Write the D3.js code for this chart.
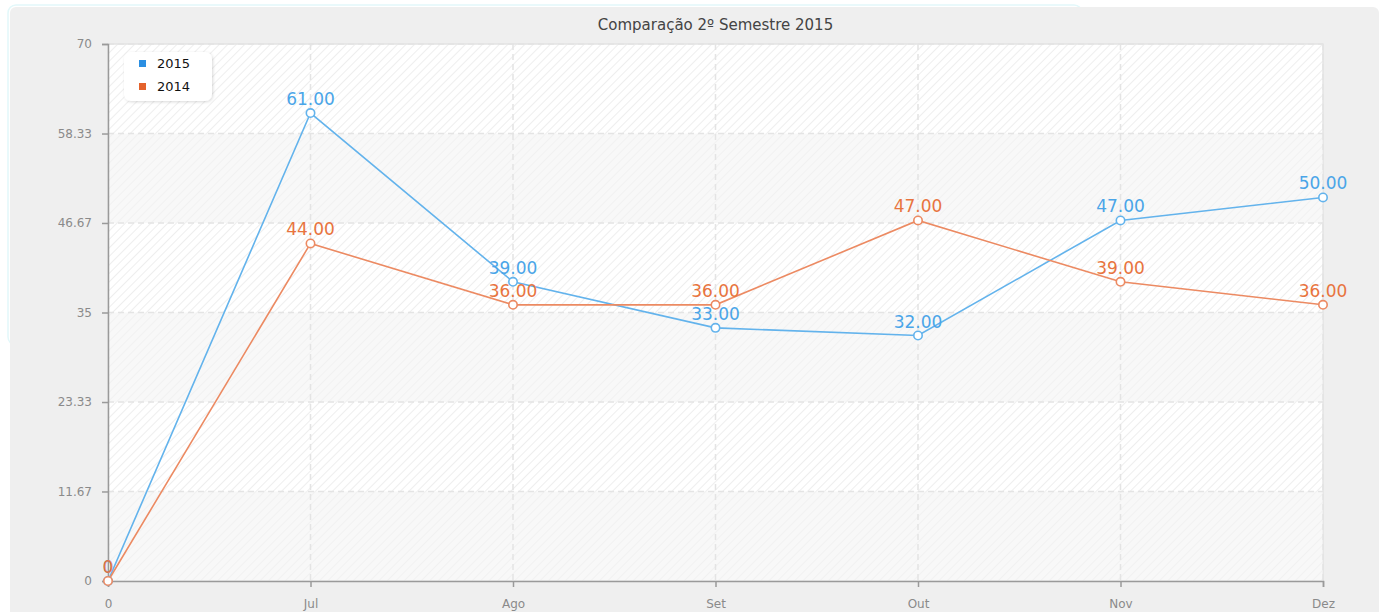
<!DOCTYPE html>
<html><head><meta charset="utf-8">
<script src="https://cdn.jsdelivr.net/npm/d3@7"></script>
<style>body{margin:0;background:#fff;}svg{display:block;font-family:"DejaVu Sans",Verdana,sans-serif;}</style>
</head><body><svg id="c" width="1379" height="612"></svg>
<script>
const categories = ["0","Jul","Ago","Set","Out","Nov","Dez"];
const s2015 = [0,61,39,33,32,47,50];
const s2014 = [0,44,36,36,47,39,36];
const yTicks = [0,11.67,23.33,35,46.67,58.33,70];
const seriesNames = ["2015","2014"];
const lineColors = ["#63b3ec","#ec8a62"];
const legendColors = ["#2b8fe2","#e4622c"];
const labelColors = ["#4aa5e8","#e8743e"];

const svg = d3.select("#c");
const W=1379,H=612, L=108, R=1323, T=44, B=581;

const defs = svg.append("defs");
const pat = defs.append("pattern").attr("id","hatch").attr("patternUnits","userSpaceOnUse")
  .attr("width",6).attr("height",6).attr("patternTransform","rotate(45)");
pat.append("rect").attr("width",6).attr("height",6).attr("fill","#ffffff");
pat.append("line").attr("x1",0).attr("y1",0).attr("x2",0).attr("y2",6).attr("stroke","#eeeeee").attr("stroke-width",2);
const sh = defs.append("filter").attr("id","sh").attr("x","-20%").attr("y","-20%").attr("width","140%").attr("height","140%");
sh.append("feDropShadow").attr("dx",1).attr("dy",1).attr("stdDeviation",1.5).attr("flood-color","#000").attr("flood-opacity",0.15);

// backgrounds
svg.append("rect").attr("x",8).attr("y",5).attr("width",1074).attr("height",340).attr("rx",8)
  .attr("fill","none").attr("stroke","#e2f8fa").attr("stroke-width",1.5);
svg.append("rect").attr("x",10).attr("y",7).attr("width",W-10).attr("height",H).attr("rx",6).attr("fill","#efefef");

const x = d3.scalePoint().domain(categories).range([L,R]);
const y = d3.scaleLinear().domain([0,70]).range([B,T]);

svg.append("rect").attr("x",L).attr("y",T).attr("width",R-L).attr("height",B-T).attr("fill","url(#hatch)")
  .attr("stroke","#e4e4e4").attr("stroke-width",1.5);
// alternating bands
const bands = d3.range(yTicks.length-1).filter(i=>i%2===0);
svg.append("g").selectAll("rect").data(bands).join("rect")
  .attr("x",L).attr("width",R-L)
  .attr("y",i=>y(yTicks[i+1])).attr("height",i=>y(yTicks[i])-y(yTicks[i+1]))
  .attr("fill","#f4f4f4").attr("opacity",0.6);

// grid
svg.append("g").selectAll("line").data(yTicks.slice(1)).join("line")
  .attr("x1",L).attr("x2",R).attr("y1",d=>y(d)).attr("y2",d=>y(d))
  .attr("stroke","#e4e4e4").attr("stroke-width",1.5).attr("stroke-dasharray","6,4");
svg.append("g").selectAll("line").data(categories.slice(1)).join("line")
  .attr("y1",T).attr("y2",B).attr("x1",d=>x(d)).attr("x2",d=>x(d))
  .attr("stroke","#e4e4e4").attr("stroke-width",1.5).attr("stroke-dasharray","6,4");

// axes
const ya = svg.append("g").attr("transform",`translate(${L},0)`)
  .call(d3.axisLeft(y).tickValues(yTicks).tickFormat(d=>String(d)).tickSize(6).tickPadding(10));
const xa = svg.append("g").attr("transform",`translate(0,${B})`)
  .call(d3.axisBottom(x).tickSize(6).tickPadding(12));
[ya,xa].forEach(a=>{
  a.select(".domain").attr("stroke","#9a9a9a").attr("stroke-width",1.5);
  a.selectAll(".tick line").attr("stroke","#9a9a9a").attr("stroke-width",1.5);
  a.selectAll(".tick text").attr("fill","#8a8a8a").attr("font-size",12).attr("font-family","DejaVu Sans");
});
xa.selectAll(".tick text").attr("dy","0.71em");

// title
svg.append("text").attr("x",(L+R)/2).attr("y",30).attr("text-anchor","middle")
  .attr("font-size",15).attr("fill","#444").text("Comparação 2º Semestre 2015");

// series
const allSeries=[s2015,s2014];
const line = d3.line().x((d,i)=>x(categories[i])).y(d=>y(d));
[0,1].forEach(k=>{
  const data=allSeries[k];
  svg.append("path").datum(data).attr("d",line).attr("fill","none")
    .attr("stroke",lineColors[k]).attr("stroke-width",1.6);
});
[0,1].forEach(k=>{
  const data=allSeries[k];
  svg.append("g").selectAll("circle").data(data).join("circle")
    .attr("cx",(d,i)=>x(categories[i])).attr("cy",d=>y(d)).attr("r",4.2)
    .attr("fill","#fff").attr("stroke",lineColors[k]).attr("stroke-width",1.6);
});
[0,1].forEach(k=>{
  const data=allSeries[k];
  svg.append("g").selectAll("text").data(data).join("text")
    .attr("x",(d,i)=>x(categories[i])).attr("y",d=>y(d)-8)
    .attr("text-anchor","middle").attr("font-size",17).attr("fill",labelColors[k])
    .text(d=>d===0?"0":d.toFixed(2));
});

// legend
const lg = svg.append("g");
lg.append("rect").attr("x",124).attr("y",52).attr("width",88).attr("height",49).attr("rx",7)
  .attr("fill","#fff").attr("filter","url(#sh)");
seriesNames.forEach((n,i)=>{
  lg.append("rect").attr("x",139).attr("y",60+i*23).attr("width",7).attr("height",7).attr("fill",legendColors[i]);
  lg.append("text").attr("x",157).attr("y",68+i*23).attr("font-size",13).attr("fill","#111").text(n);
});
</script></body></html>
